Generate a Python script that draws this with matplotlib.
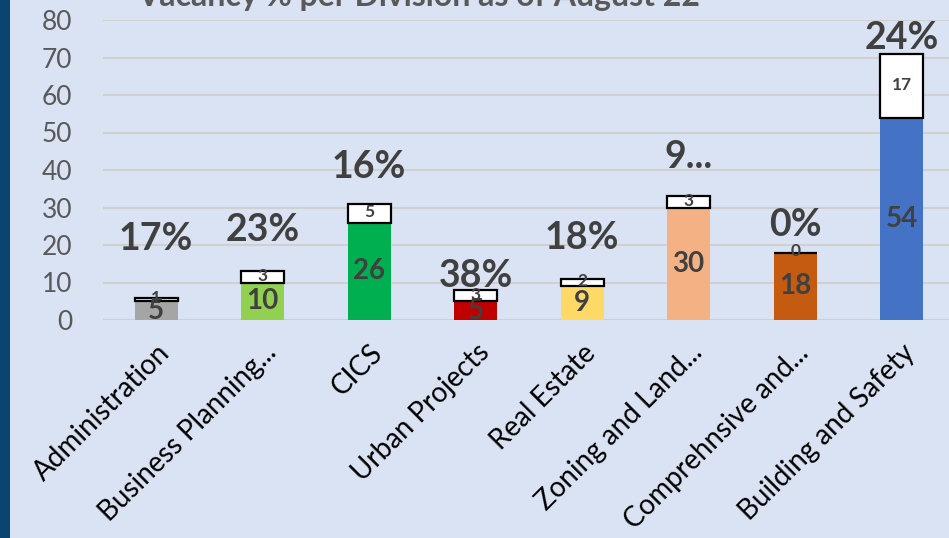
import matplotlib.pyplot as plt
import matplotlib.patches as mpatches
import numpy as np

divisions = ["Administration", "Business Planning...", "CICS", "Urban Projects",
             "Real Estate", "Zoning and Land...", "Comprehnsive and...",
             "Building and Safety"]
filled = [5, 10, 26, 5, 9, 30, 18, 54]
vacant = [1, 3, 5, 3, 2, 3, 0, 17]
pct_labels = ["17%", "23%", "16%", "38%", "18%", "9...", "0%", "24%"]
pct_label_y = [21.6, 24, 40.8, 11.7, 21.9, 43.5, 25.3, 75.2]
colors = ["#a5a5a5", "#92d050", "#00b050", "#c00000", "#ffd966", "#f4b183",
          "#c55a11", "#4472c4"]

bg = "#dae3f3"
txt = "#404040"
font = "Lato"

fig = plt.figure(figsize=(9.49, 5.38), dpi=100)
fig.patch.set_facecolor(bg)
fig.patches.append(mpatches.Rectangle((0, 0), 10 / 949, 1, transform=fig.transFigure,
                                      facecolor="#0b4470", edgecolor="none"))

ax = fig.add_axes([103 / 949, 218 / 538, 852 / 949, 300 / 538])
ax.set_facecolor(bg)
x = np.arange(len(divisions))
w = 0.40

ax.bar(x, filled, w, color=colors, zorder=2)
ax.bar(x, vacant, w, bottom=filled, color="white", edgecolor="black",
       linewidth=1.6, zorder=3)

for i in range(len(x)):
    ax.text(x[i], filled[i] / 2, str(filled[i]), ha="center", va="center",
            fontsize=20, fontweight="bold", color=txt, family=font, zorder=4)
    ax.text(x[i], filled[i] + vacant[i] / 2 + 0.3, str(vacant[i]), ha="center",
            va="center", fontsize=12.5, fontweight="bold", color=txt, family=font,
            zorder=4)
    ax.text(x[i], pct_label_y[i], pct_labels[i], ha="center", va="center",
            fontsize=27, fontweight="bold", color=txt, family=font, zorder=4)

ax.set_xlim(-0.5, len(x) - 0.5)
ax.set_ylim(0, 80)
ax.set_yticks(range(0, 81, 10))
ax.yaxis.grid(True, color="#d0d0d0", linewidth=1.5, zorder=0)
ax.set_axisbelow(True)
for s in ax.spines.values():
    s.set_visible(False)
ax.tick_params(axis="both", length=0)
ax.tick_params(axis="y", pad=22, labelsize=19, labelcolor="#595959")
for lbl in ax.get_yticklabels():
    lbl.set_family(font)
ax.set_xticks(x)
ax.set_xticklabels(divisions, rotation=45, ha="right", rotation_mode="anchor",
                   fontsize=20, family=font, color="black")
ax.tick_params(axis="x", pad=14)

fig.text(419 / 949, 1.006, "Vacancy % per Division as of August 22", ha="center",
         va="center", fontsize=23, fontweight="bold", color="#595959", family=font)

fig.savefig("out.png", dpi=100, facecolor=bg)
